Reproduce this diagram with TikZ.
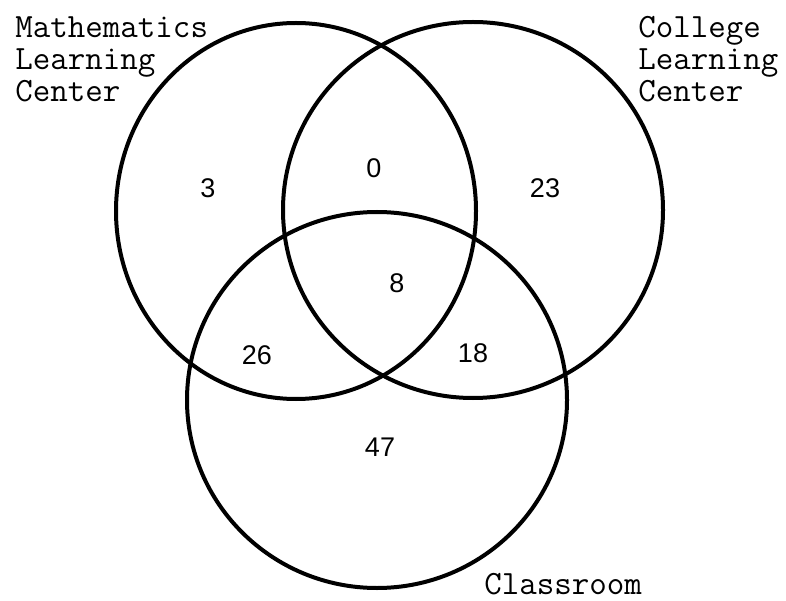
\documentclass[tikz,border=0pt]{standalone}
\usepackage{fontspec}
\setmainfont{Liberation Sans}
\usepackage{tikz}

\begin{document}
\begin{tikzpicture}[x=0.5pt,y=0.5pt,
  ring/.style={line width=2pt},
  count/.style={font=\fontsize{13.5}{14}\selectfont},
  setname/.style={font=\fontsize{17}{16}\selectfont\ttfamily,align=left,inner sep=0pt}]
\useasboundingbox (0,0) rectangle (786,600);
\draw[ring] (296,389) ellipse [x radius=180,y radius=188];
\draw[ring] (473,390) ellipse [x radius=190,y radius=188];
\draw[ring] (377,200) ellipse [x radius=190,y radius=188];
\node[setname,anchor=north west] (mlc) at (15,584) {Mathematics\\Learning\\Center};
\node[setname,anchor=north west] (clc) at (638,584) {College\\Learning\\Center};
\node[setname,anchor=base west] (room) at (484,6) {Classroom};
\node[count] (onlym) at (208,412) {3};
\node[count] (mc) at (374,432) {0};
\node[count] (onlyc) at (545,412) {23};
\node[count] (all) at (397,317) {8};
\node[count] (mr) at (257,245) {26};
\node[count] (cr) at (473,247) {18};
\node[count] (onlyr) at (380,153) {47};
\end{tikzpicture}
\end{document}
